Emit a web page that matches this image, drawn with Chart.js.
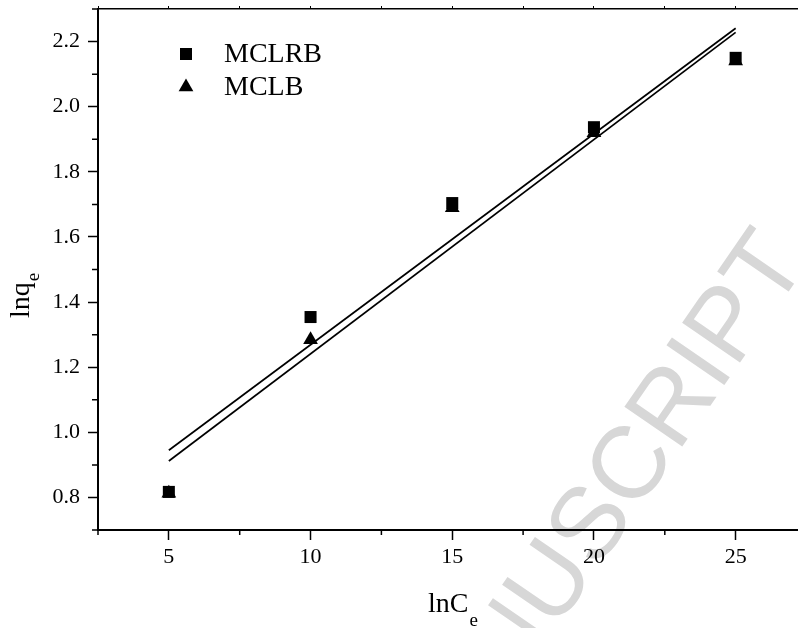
<!DOCTYPE html>
<html>
<head>
<meta charset="utf-8">
<script src="https://cdn.jsdelivr.net/npm/chart.js@4.4.1/dist/chart.umd.min.js"></script>
<style>
  html, body { margin: 0; padding: 0; background: #fff; }
  #wrap { width: 798px; height: 628px; }
</style>
</head>
<body>
<div id="wrap"><canvas id="myChart" width="798" height="628"></canvas></div>
<script>
// values
const lnCe = [5, 10, 15, 20, 25];
const mclrb = [0.817, 1.354, 1.704, 1.937, 2.150];
const mclb = [0.813, 1.284, 1.690, 1.920, 2.140];

// the two fitted lines, end points
const fitX = [5, 25];
const fitMclrb = [0.945, 2.241];
const fitMclb = [0.912, 2.228];

const xMajor = [5, 10, 15, 20, 25];
const yMajor = [0.8, 1.0, 1.2, 1.4, 1.6, 1.8, 2.0, 2.2];

const serif = "'Liberation Serif', 'Times New Roman', serif";

function isMajor(list, v) {
    return list.some(m => Math.abs(m - v) < 1e-6);
}

const watermark = {
    id: 'watermark',
    beforeDraw(chart) {
        const ctx = chart.ctx;
        ctx.save();
        ctx.translate(809, 262);
        ctx.rotate(-55.5 * Math.PI / 180);
        ctx.font = "102px 'Liberation Sans', Arial, sans-serif";
        ctx.fillStyle = '#d7d7d7';
        ctx.textAlign = 'right';
        ctx.textBaseline = 'alphabetic';
        ctx.fillText('ACCEPTED MANUSCRIPT', 0, 0);
        ctx.restore();
    }
};

const minorTicks = {
    id: 'minorTicks',
    afterDraw(chart) {
        const { ctx, chartArea, scales } = chart;
        ctx.save();
        ctx.strokeStyle = '#000';
        ctx.lineWidth = 1.5;
        ctx.beginPath();
        scales.x.ticks.forEach(t => {
            if (isMajor(xMajor, t.value)) return;
            const px = scales.x.getPixelForValue(t.value);
            ctx.moveTo(px, chartArea.bottom);
            ctx.lineTo(px, chartArea.bottom + 5);
        });
        scales.y.ticks.forEach(t => {
            if (isMajor(yMajor, t.value)) return;
            const py = scales.y.getPixelForValue(t.value);
            ctx.moveTo(chartArea.left - 6, py);
            ctx.lineTo(chartArea.left, py);
        });
        ctx.stroke();
        ctx.restore();
    }
};

// axis titles with subscripts
const axisTitles = {
    id: 'axisTitles',
    afterDraw(chart) {
        const ctx = chart.ctx;
        ctx.save();
        ctx.fillStyle = '#000';
        ctx.textBaseline = 'alphabetic';
        ctx.textAlign = 'left';

        ctx.font = '28px ' + serif;
        let w = ctx.measureText('lnC').width;
        ctx.fillText('lnC', 428, 612);
        ctx.font = '19px ' + serif;
        ctx.fillText('e', 428 + w + 1, 626);

        ctx.translate(29, 318);
        ctx.rotate(-Math.PI / 2);
        ctx.font = '28px ' + serif;
        w = ctx.measureText('lnq').width;
        ctx.fillText('lnq', 0, 0);
        ctx.font = '19px ' + serif;
        ctx.fillText('e', w + 1, 10);
        ctx.restore();
    }
};

const legendBox = {
    id: 'legendBox',
    afterDraw(chart) {
        const ctx = chart.ctx;
        const sets = chart.data.datasets;
        const rows = [
            { ds: sets[0], y: 54 },
            { ds: sets[1], y: 87 }
        ];
        ctx.save();
        ctx.fillStyle = '#000';
        ctx.font = '28px ' + serif;
        ctx.textBaseline = 'middle';
        ctx.textAlign = 'left';
        rows.forEach(r => {
            Chart.helpers.drawPoint(ctx, {
                pointStyle: r.ds.pointStyle, radius: r.ds.pointRadius, rotation: 0, borderWidth: 0
            }, 186, r.y);
            ctx.fillStyle = '#000';
            ctx.fillText(r.ds.label, 224, r.y + 1);
        });
        ctx.restore();
    }
};

const tickFont = { family: serif, size: 22 };

function noEdgePadding(s) {
    s.paddingTop = 0;
    s.paddingBottom = 0;
    s.paddingLeft = 0;
    s.paddingRight = 0;
}

const ctx = document.getElementById('myChart').getContext('2d');
const chart = new Chart(ctx, {
    type: 'scatter',
    data: {
        datasets: [{
            label: 'MCLRB',
            data: lnCe.map((x, i) => ({ x: x, y: mclrb[i] })),
            pointStyle: 'rect',
            pointRadius: 8.5,
            backgroundColor: '#000',
            borderColor: '#000',
            borderWidth: 0,
            xAxisID: 'x'
        }, {
            label: 'MCLB',
            data: lnCe.map((x, i) => ({ x: x, y: mclb[i] })),
            pointStyle: 'triangle',
            pointRadius: 8.5,
            backgroundColor: '#000',
            borderColor: '#000',
            borderWidth: 0,
            xAxisID: 'x'
        }, {
            label: 'fit MCLRB',
            data: fitX.map((x, i) => ({ x: x, y: fitMclrb[i] })),
            showLine: true,
            pointRadius: 0,
            borderColor: '#000',
            borderWidth: 1.7,
            fill: false,
            xAxisID: 'x'
        }, {
            label: 'fit MCLB',
            data: fitX.map((x, i) => ({ x: x, y: fitMclb[i] })),
            showLine: true,
            pointRadius: 0,
            borderColor: '#000',
            borderWidth: 1.7,
            fill: false,
            xAxisID: 'x'
        }]
    },
    options: {
        responsive: false,
        animation: false,
        layout: { padding: 0, autoPadding: false },
        plugins: {
            legend: { display: false },
            tooltip: { enabled: false }
        },
        scales: {
            x: {
                type: 'linear',
                position: 'bottom',
                min: 2.5,
                max: 27.2,
                ticks: {
                    stepSize: 2.5,
                    autoSkip: false,
                    maxRotation: 0,
                    includeBounds: false,
                    color: '#000',
                    font: tickFont,
                    padding: 4,
                    callback: v => isMajor(xMajor, v) ? String(v) : ''
                },
                grid: {
                    drawOnChartArea: false,
                    tickLength: 10,
                    tickWidth: 1.5,
                    tickColor: c => (c.tick && isMajor(xMajor, c.tick.value)) ? '#000' : 'rgba(0,0,0,0)'
                },
                border: { display: true, color: '#000', width: 2 },
                afterFit: s => { s.height = 98; noEdgePadding(s); }
            },
            x2: {
                type: 'linear',
                position: 'top',
                min: 2.5,
                max: 27.2,
                ticks: { display: false, stepSize: 2.5, includeBounds: false },
                grid: { drawOnChartArea: false, tickLength: 3, tickWidth: 1, tickColor: '#000' },
                border: { display: true, color: '#000', width: 1.5 },
                afterFit: s => { s.height = 9; noEdgePadding(s); }
            },
            y: {
                type: 'linear',
                min: 0.7,
                max: 2.3,
                ticks: {
                    stepSize: 0.1,
                    autoSkip: false,
                    includeBounds: false,
                    color: '#000',
                    font: tickFont,
                    padding: 8,
                    callback: v => isMajor(yMajor, v) ? v.toFixed(1) : ''
                },
                grid: {
                    drawOnChartArea: false,
                    tickLength: 10,
                    tickWidth: 1.5,
                    tickColor: c => (c.tick && isMajor(yMajor, c.tick.value)) ? '#000' : 'rgba(0,0,0,0)'
                },
                border: { display: true, color: '#000', width: 2 },
                afterFit: s => { s.width = 98; noEdgePadding(s); }
            }
        }
    },
    plugins: [watermark, minorTicks, axisTitles, legendBox]
});
</script>
</body>
</html>
